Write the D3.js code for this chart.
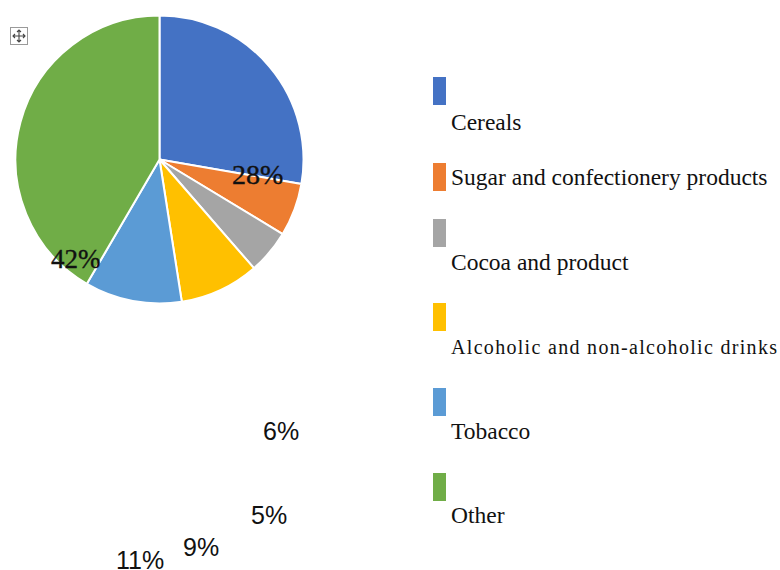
<!DOCTYPE html>
<html>
<head>
<meta charset="utf-8">
<script src="https://cdn.jsdelivr.net/npm/d3@7"></script>
<style>
  html, body { margin: 0; padding: 0; background: #fff; }
  svg { display: block; }
  .serif { font-family: "Liberation Serif", "Times New Roman", serif; }
  .sans { font-family: "Liberation Sans", Arial, sans-serif; }
</style>
</head>
<body>
<div id="chart"></div>
<script>
// data
const categories = [
  "Cereals",
  "Sugar and confectionery products",
  "Cocoa and product",
  "Alcoholic and non-alcoholic drinks",
  "Tobacco",
  "Other"
];
const shares = [28, 6, 5, 9, 11, 42];
const colors = ["#4472C4", "#ED7D31", "#A5A5A5", "#FFC000", "#5B9BD5", "#70AD47"];

// layout (where Word dropped the labels)
const labelSpots = [
  { x: 232, y: 184, font: "serif", size: 28 },
  { x: 263, y: 440, font: "sans", size: 25 },
  { x: 251, y: 524, font: "sans", size: 25 },
  { x: 183, y: 556, font: "sans", size: 25 },
  { x: 116, y: 569, font: "sans", size: 25 },
  { x: 51, y: 268, font: "serif", size: 27 }
];
const legendSwatchTop = [77, 163, 219, 303, 388, 473];
const legendBaseline = [130, 185, 270, 354, 439, 523];

const width = 780, height = 570;
const cx = 159.5, cy = 159.5, radius = 144;

const svg = d3.select("#chart").append("svg")
  .attr("width", width)
  .attr("height", height)
  .attr("viewBox", [0, 0, width, height]);

const data = categories.map((c, i) => ({ name: c, value: shares[i], color: colors[i] }));

const pie = d3.pie().value(d => d.value).sort(null);
const arc = d3.arc().innerRadius(0).outerRadius(radius);

// slices
svg.append("g")
  .attr("transform", `translate(${cx},${cy})`)
  .selectAll("path")
  .data(pie(data))
  .join("path")
  .attr("d", arc)
  .attr("fill", d => d.data.color)
  .attr("stroke", "#fff")
  .attr("stroke-width", 2)
  .attr("stroke-linejoin", "round");

// move handle icon
const icon = svg.append("g").attr("transform", "translate(10,27)");
icon.append("rect")
  .attr("x", 0.5).attr("y", 0.5).attr("width", 17).attr("height", 17)
  .attr("fill", "#fff").attr("stroke", "#9a9a9a").attr("stroke-width", 1);
icon.append("path")
  .attr("d", "M9,3V15M3,9H15M7,5L9,3L11,5M7,13L9,15L11,13M5,7L3,9L5,11M13,7L15,9L13,11")
  .attr("fill", "none").attr("stroke", "#444").attr("stroke-width", 1.1);

// percent labels
svg.append("g")
  .selectAll("text")
  .data(data)
  .join("text")
  .attr("class", (d, i) => labelSpots[i].font)
  .attr("x", (d, i) => labelSpots[i].x)
  .attr("y", (d, i) => labelSpots[i].y)
  .attr("font-size", (d, i) => labelSpots[i].size)
  .attr("fill", "#111")
  .attr("stroke", (d, i) => labelSpots[i].font === "serif" ? "#111" : "none")
  .attr("stroke-width", 0.4)
  .text(d => d.value + "%");

// legend
const legend = svg.append("g");

legend.selectAll("rect")
  .data(data)
  .join("rect")
  .attr("x", 433)
  .attr("y", (d, i) => legendSwatchTop[i])
  .attr("width", 13)
  .attr("height", 28)
  .attr("fill", d => d.color);

legend.selectAll("text")
  .data(data)
  .join("text")
  .attr("class", "serif")
  .attr("x", 451)
  .attr("y", (d, i) => legendBaseline[i])
  .attr("font-size", (d, i) => i === 3 ? 20 : 23.5)
  .attr("fill", "#111")
  .each(function (d, i) {
    if (i === 3) {
      d3.select(this)
        .attr("textLength", 326)
        .attr("lengthAdjust", "spacing");
    }
  })
  .text(d => d.name);
</script>
</body>
</html>
